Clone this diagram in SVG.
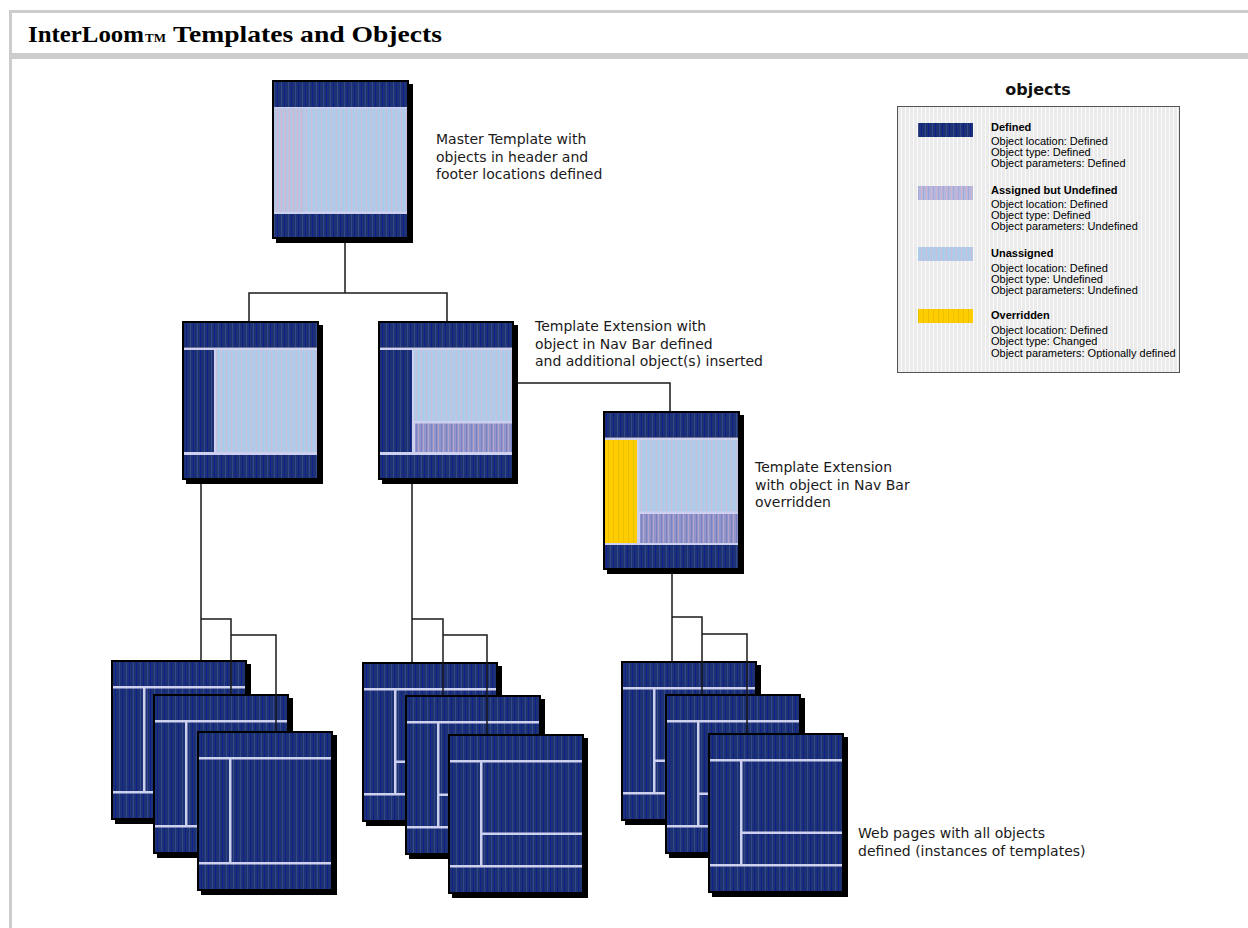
<svg xmlns="http://www.w3.org/2000/svg" xmlns:xlink="http://www.w3.org/1999/xlink" width="1248" height="928" viewBox="0 0 1248 928">
<style>
.frame{fill:#000}
.lav{fill:#cdd0ee}
.navy{fill:url(#navy)}
.light{fill:url(#light)}
.pinkl{fill:url(#pinkl)}
.purple{fill:url(#purple)}
.yellow{fill:url(#yellow)}
.lbl{font-family:"DejaVu Sans",sans-serif;font-size:14px;fill:#1a1a1a}
.lg{font-family:"Liberation Sans",Arial,sans-serif;font-size:11px;fill:#000}
.lgb{font-family:"Liberation Sans",Arial,sans-serif;font-size:11px;font-weight:bold;fill:#000}
.conn{fill:none;stroke:#1a1a1a;stroke-width:1.5}
.title{font-family:"Liberation Serif","Times New Roman",serif;font-weight:bold;fill:#000}
</style>
<defs>
<pattern id="navy" width="7" height="10" patternUnits="userSpaceOnUse">
<rect width="7" height="10" fill="#1d3273"/>
<rect x="1" width="1" height="10" fill="#34478b"/>
<rect x="4" width="1" height="10" fill="#111f8e"/>
</pattern>
<pattern id="light" width="5" height="10" patternUnits="userSpaceOnUse">
<rect width="5" height="10" fill="#b3cbe6"/>
<rect x="1" width="1" height="10" fill="#c8bedb"/>
<rect x="3" width="1" height="10" fill="#a5cdec"/>
</pattern>
<pattern id="pinkl" width="4" height="10" patternUnits="userSpaceOnUse">
<rect width="4" height="10" fill="#bcc4e2"/>
<rect x="1" width="1" height="10" fill="#d2b4cf"/>
<rect x="3" width="1" height="10" fill="#aec8e8"/>
</pattern>
<pattern id="purple" width="5" height="10" patternUnits="userSpaceOnUse">
<rect width="5" height="10" fill="#8f96cb"/>
<rect x="1" width="1" height="10" fill="#7a80c2"/>
<rect x="3" width="1" height="10" fill="#b8a4c9"/>
</pattern>
<pattern id="assigned" width="5" height="10" patternUnits="userSpaceOnUse">
<rect width="5" height="10" fill="#b4b8df"/>
<rect x="1" width="1" height="10" fill="#d1b3cc"/>
<rect x="3" width="1" height="10" fill="#a4a9d8"/>
</pattern>
<pattern id="yellow" width="10" height="10" patternUnits="userSpaceOnUse">
<rect width="10" height="10" fill="#ffcc00"/>
<rect x="3" width="1" height="10" fill="#eec200"/>
<rect x="8" width="1" height="10" fill="#e8c000"/>
</pattern>
<pattern id="lgbg" width="4" height="10" patternUnits="userSpaceOnUse">
<rect width="4" height="10" fill="#ebebeb"/>
<rect x="1" width="1" height="10" fill="#fbfbfb"/>
</pattern>
<g id="pageT">
<rect x="4" y="4" width="136" height="160" fill="#000"/>
<rect width="136" height="160" fill="#000"/>
<rect x="2" y="2" width="132" height="156" fill="url(#navy)"/>
<rect x="2" y="26" width="132" height="2.5" class="lav"/>
<rect x="32" y="27" width="2.5" height="106" class="lav"/>
<rect x="2" y="131" width="132" height="2.5" class="lav"/>
</g>
<g id="pageTM">
<use xlink:href="#pageT"/>
<rect x="33" y="98.5" width="101" height="2.5" class="lav"/>
</g>
</defs>

<g id="titlebar">
<rect x="9" y="10" width="1239" height="3" fill="#cccccc"/>
<rect x="9" y="10" width="3" height="918" fill="#cccccc"/>
<rect x="9" y="53" width="1239" height="6" fill="#cccccc"/>
<text class="title" x="28" y="42" font-size="24" textLength="116" lengthAdjust="spacingAndGlyphs">InterLoom</text>
<text class="title" x="145" y="42" font-size="13" font-weight="normal">TM</text>
<text class="title" x="173" y="42" font-size="24" textLength="269" lengthAdjust="spacingAndGlyphs">Templates and Objects</text>
</g>

<g id="master">
<rect x="276" y="84" width="137" height="159" class="frame"/>
<rect x="272" y="80" width="137" height="159" class="frame"/>
<rect x="274" y="82" width="133" height="25" class="navy"/>
<rect x="274" y="107" width="133" height="107" class="lav"/>
<rect x="274" y="108.5" width="133" height="103" class="light"/>
<rect x="274" y="108.5" width="31" height="103" class="pinkl"/>
<rect x="274" y="214" width="133" height="23" class="navy"/>
<text class="lbl" x="436" y="144">Master Template with</text>
<text class="lbl" x="436" y="162">objects in header and</text>
<text class="lbl" x="436" y="179">footer locations defined</text>
</g>

<g id="template-left">
<rect x="186" y="325" width="137" height="159" class="frame"/>
<rect x="182" y="321" width="137" height="159" class="frame"/>
<rect x="184" y="323" width="133" height="24.5" class="navy"/>
<rect x="184" y="347.5" width="133" height="107.5" class="lav"/>
<rect x="184" y="350" width="30" height="102" class="navy"/>
<rect x="216" y="350" width="101" height="102" class="light"/>
<rect x="184" y="455" width="133" height="23" class="navy"/>
</g>

<g id="template-ext">
<rect x="382" y="325" width="136" height="159" class="frame"/>
<rect x="378" y="321" width="136" height="159" class="frame"/>
<rect x="380" y="323" width="132" height="24.5" class="navy"/>
<rect x="380" y="347.5" width="132" height="107.5" class="lav"/>
<rect x="380" y="350" width="32" height="102" class="navy"/>
<rect x="414" y="350" width="98" height="71" class="light"/>
<rect x="415" y="423.5" width="97" height="28.5" class="purple"/>
<rect x="380" y="455" width="132" height="23" class="navy"/>
<text class="lbl" x="535" y="331">Template Extension with</text>
<text class="lbl" x="535" y="349">object in Nav Bar defined</text>
<text class="lbl" x="535" y="366">and additional object(s) inserted</text>
</g>

<g id="template-override">
<rect x="607" y="415" width="137" height="159" class="frame"/>
<rect x="603" y="411" width="137" height="159" class="frame"/>
<rect x="605" y="413" width="133" height="24.5" class="navy"/>
<rect x="605" y="437.5" width="133" height="107.5" class="lav"/>
<rect x="605" y="440" width="32" height="103" class="yellow"/>
<rect x="639" y="440" width="99" height="71.5" class="light"/>
<rect x="640" y="514" width="98" height="29" class="purple"/>
<rect x="605" y="545" width="133" height="23" class="navy"/>
<text class="lbl" x="755" y="472">Template Extension</text>
<text class="lbl" x="755" y="490">with object in Nav Bar</text>
<text class="lbl" x="755" y="507">overridden</text>
</g>

<g id="pages-left">
<g id="page-l1"><use xlink:href="#pageT" x="111" y="660"/></g>
<g id="page-l2"><use xlink:href="#pageT" x="153" y="694"/></g>
<g id="page-l3"><use xlink:href="#pageT" x="197" y="731"/></g>
</g>
<g id="pages-mid">
<g id="page-m1"><use xlink:href="#pageTM" x="362" y="662"/></g>
<g id="page-m2"><use xlink:href="#pageTM" x="405" y="695"/></g>
<g id="page-m3"><use xlink:href="#pageTM" x="448" y="734"/></g>
</g>
<g id="pages-right">
<g id="page-r1"><use xlink:href="#pageTM" x="621" y="661"/></g>
<g id="page-r2"><use xlink:href="#pageTM" x="665" y="694"/></g>
<g id="page-r3"><use xlink:href="#pageTM" x="708" y="733"/></g>
<text class="lbl" x="858" y="838">Web pages with all objects</text>
<text class="lbl" x="858" y="856">defined (instances of templates)</text>
</g>

<g id="legend">
<text x="1038" y="95" text-anchor="middle" font-family="DejaVu Sans,sans-serif" font-size="16" font-weight="bold" fill="#111">objects</text>
<rect x="897.5" y="106.5" width="282" height="266" fill="url(#lgbg)" stroke="#555" stroke-width="1"/>
<rect x="918" y="123" width="55" height="14" class="navy"/>
<text class="lgb" x="991" y="131">Defined</text>
<text class="lg" x="991" y="145">Object location: Defined</text>
<text class="lg" x="991" y="156">Object type: Defined</text>
<text class="lg" x="991" y="167">Object parameters: Defined</text>
<rect x="918" y="186" width="55" height="14" fill="url(#assigned)"/>
<text class="lgb" x="991" y="194">Assigned but Undefined</text>
<text class="lg" x="991" y="208">Object location: Defined</text>
<text class="lg" x="991" y="219">Object type: Defined</text>
<text class="lg" x="991" y="230">Object parameters: Undefined</text>
<rect x="918" y="247" width="55" height="14" class="light"/>
<text class="lgb" x="991" y="257">Unassigned</text>
<text class="lg" x="991" y="272">Object location: Defined</text>
<text class="lg" x="991" y="283">Object type: Undefined</text>
<text class="lg" x="991" y="294">Object parameters: Undefined</text>
<rect x="918" y="309" width="55" height="14" class="yellow"/>
<text class="lgb" x="991" y="319">Overridden</text>
<text class="lg" x="991" y="334">Object location: Defined</text>
<text class="lg" x="991" y="345">Object type: Changed</text>
<text class="lg" x="991" y="357">Object parameters: Optionally defined</text>
</g>

<g id="connectors">
<path class="conn" d="M345 243V293M249 321V293H447V321"/>
<path class="conn" d="M518 383H670V411"/>
<path class="conn" d="M201 484V660M201 619H231V694M231 635H276V731"/>
<path class="conn" d="M412 484V662M412 619H443V695M443 635H487V734"/>
<path class="conn" d="M672 574V661M672 617H702V694M702 634H747V733"/>
</g>
</svg>
